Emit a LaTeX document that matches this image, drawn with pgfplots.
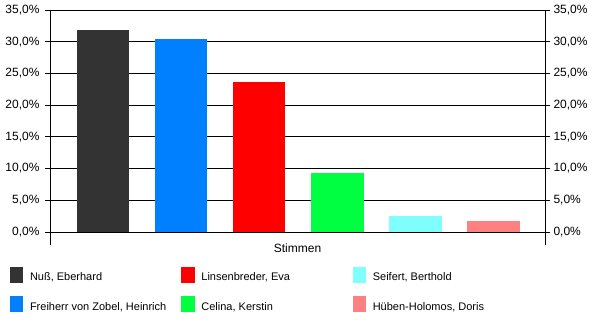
\documentclass[border=0pt]{standalone}
\usepackage{pgfplots}
\pgfplotsset{compat=1.18}
\usepackage{fontspec}
\setmainfont{Liberation Sans}
\definecolor{cA}{HTML}{333333}
\definecolor{cB}{HTML}{0080FF}
\definecolor{cC}{HTML}{FF0000}
\definecolor{cD}{HTML}{00FF40}
\definecolor{cE}{HTML}{80FFFF}
\definecolor{cF}{HTML}{FF8080}
\pgfplotsset{
  sq/.style={legend image code/.code={\fill[##1] (0bp,-5.3bp) rectangle (13.3bp,10.7bp);}},
  bars/.style={ybar, bar width=52.5bp, bar shift=0pt, draw=none, sq},
  common/.style={
    at={(50bp,94bp)}, anchor=south west,
    scale only axis, width=495bp, height=222bp,
    xmin=-0.68, xmax=5.66, ymin=0, ymax=35,
    ytick={0,5,...,35},
    tick align=outside, major tick length=5bp,
    tick style={black, line width=0.75bp},
    axis line style={black, line width=0.75bp},
    yticklabel={\pgfmathprintnumber[fixed,fixed zerofill,precision=1,use comma,assume math mode=true]{\tick}\%},
    yticklabel style={font=\fontsize{12bp}{14bp}\selectfont},
  },
}
\newcommand{\legent}[1]{\addlegendentry{\makebox[151.4bp][l]{#1}}}
\begin{document}
\begin{tikzpicture}
\useasboundingbox (0,0) rectangle (600bp,326bp);
\begin{axis}[common,
  xtick=\empty,
  ytick pos=left,
  yticklabel style={xshift=-2bp},
  ymajorgrids, grid style={black, line width=0.75bp},
  xlabel={Stimmen},
  xlabel style={at={(axis description cs:0.5,0)}, anchor=center, yshift=-16.5bp, font=\fontsize{12bp}{14bp}\selectfont},
  clip=false,
  legend columns=3,
  legend style={at={(axis description cs:-0.0808,-0.1563)}, anchor=north west,
    draw=none, fill=none, inner sep=0pt, outer sep=0pt, row sep=13.4bp,
    font=\fontsize{11bp}{13bp}\selectfont,
    nodes={inner sep=0pt, outer sep=0pt},
    /tikz/every odd column/.append style={column sep=6.7bp}},
]
\addplot[bars, fill=cA] coordinates {(0,31.8)}; \legent{Nuß, Eberhard}
\addplot[bars, fill=cC] coordinates {(2,23.65)}; \legent{Linsenbreder, Eva}
\addplot[bars, fill=cE] coordinates {(4,2.47)}; \legent{Seifert, Berthold}
\addplot[bars, fill=cB] coordinates {(1,30.5)}; \legent{Freiherr von Zobel, Heinrich}
\addplot[bars, fill=cD] coordinates {(3,9.3)}; \legent{Celina, Kerstin}
\addplot[bars, fill=cF] coordinates {(5,1.73)}; \legent{Hüben-Holomos, Doris}
\draw[black, line width=0.75bp] (rel axis cs:0,0) -- ++(0bp,-13bp);
\draw[black, line width=0.75bp] (rel axis cs:1,0) -- ++(0bp,-13bp);
\end{axis}
\begin{axis}[common,
  axis x line=none, axis y line*=right,
  yticklabel pos=right,
]
\addplot[draw=none] coordinates {(0,0)};
\end{axis}
\end{tikzpicture}
\end{document}
